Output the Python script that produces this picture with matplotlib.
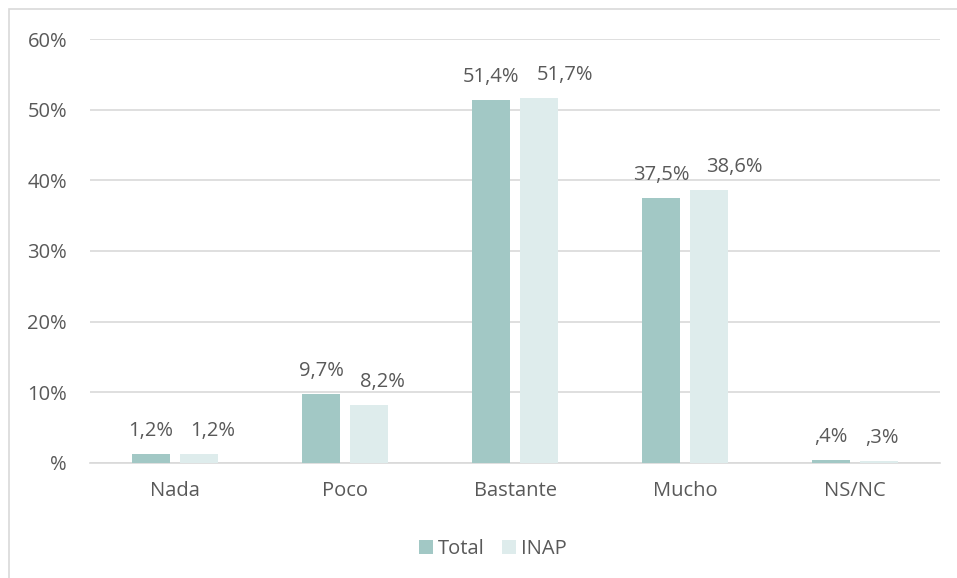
import matplotlib
matplotlib.use("Agg")
import matplotlib.pyplot as plt
from matplotlib.patches import Rectangle

categories = ["Nada", "Poco", "Bastante", "Mucho", "NS/NC"]
total = [1.2, 9.7, 51.4, 37.5, 0.4]
inap = [1.2, 8.2, 51.7, 38.6, 0.3]
total_labels = ["1,2%", "9,7%", "51,4%", "37,5%", ",4%"]
inap_labels = ["1,2%", "8,2%", "51,7%", "38,6%", ",3%"]
yticks = [0, 10, 20, 30, 40, 50, 60]
ytick_labels = ["%", "10%", "20%", "30%", "40%", "50%", "60%"]

plt.rcParams['font.family'] = ['Open Sans', 'DejaVu Sans']
txt = "#595959"
c_total = "#A2C8C5"
c_inap = "#DEECEC"
fs = 14.5

fig = plt.figure(figsize=(9.57, 5.78), dpi=100)
fig.patches.append(Rectangle((9/957, -0.01), 1.0, 1 - 9/578 + 0.01, transform=fig.transFigure,
                             fill=False, edgecolor="#D9D9D9", linewidth=1.2))
ax = fig.add_axes([90/957, 0.199, 850/957, 0.7335])

x = list(range(len(categories)))
w = 0.224
off = 0.141
b1 = ax.bar([i - off for i in x], total, width=w, color=c_total, label="Total", zorder=3)
b2 = ax.bar([i + off for i in x], inap, width=w, color=c_inap, label="INAP", zorder=3)

t_texts = []
i_texts = []
for bars, labs, store in ((b1, total_labels, t_texts), (b2, inap_labels, i_texts)):
    for bar, lab in zip(bars, labs):
        t = ax.annotate(lab, (bar.get_x() + bar.get_width()/2, bar.get_height()), xytext=(0, 13),
                        textcoords="offset points", ha="center", va="baseline", fontsize=fs, color=txt)
        store.append(t)

ax.set_xlim(-0.5, 4.5)
ax.set_ylim(0, 60)
ax.set_yticks(yticks)
ax.set_yticklabels(ytick_labels, fontsize=fs, color=txt)
ax.set_xticks(x)
ax.set_xticklabels(categories, fontsize=fs, color=txt)
ax.tick_params(axis="both", length=0)
ax.tick_params(axis="y", pad=16.5)
ax.tick_params(axis="x", pad=13)
ax.grid(axis="y", color="#D9D9D9", linewidth=1.2, zorder=0)
for s in ["top", "right", "left"]:
    ax.spines[s].set_visible(False)
ax.spines["bottom"].set_color("#D9D9D9")
ax.spines["bottom"].set_linewidth(1.2)

leg = fig.legend(handles=[b1, b2], labels=["Total", "INAP"], loc="center", bbox_to_anchor=(0.515, 0.05),
                 ncol=2, frameon=False, fontsize=fs, handlelength=0.7, handleheight=0.7,
                 handletextpad=0.25, columnspacing=0.85)
for t in leg.get_texts():
    t.set_color(txt)

# push INAP labels right where they would collide with Total labels (as Excel does)
fig.canvas.draw()
r = fig.canvas.get_renderer()
gap_px = 17
for tt, it in zip(t_texts, i_texts):
    te = tt.get_window_extent(r)
    ie = it.get_window_extent(r)
    if ie.x0 < te.x1 + gap_px:
        shift_px = te.x1 + gap_px - ie.x0
        it.set_position((shift_px * 72 / fig.dpi, 13))

fig.savefig("out.png", dpi=100)
